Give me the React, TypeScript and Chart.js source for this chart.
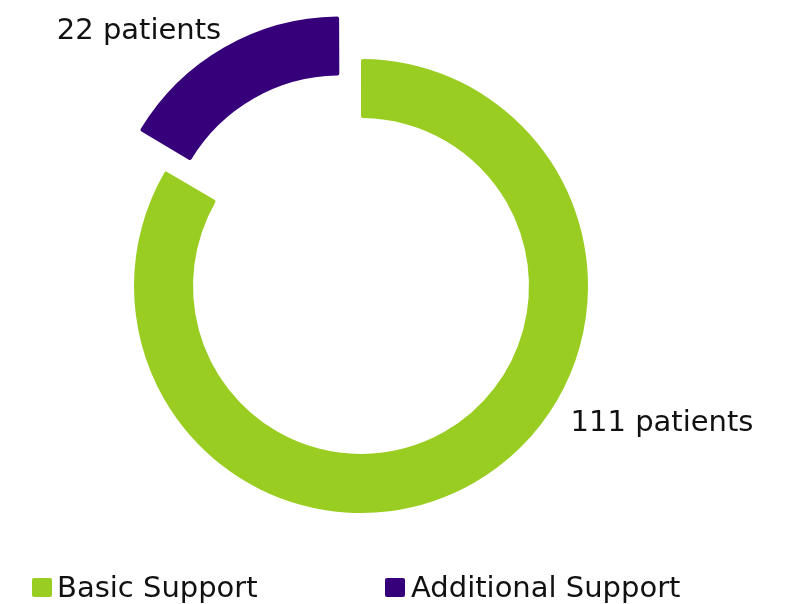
import React, { useEffect, useRef } from "react";
import { Chart, registerables } from "chart.js";

Chart.register(...registerables);

const categories = ["Basic Support", "Additional Support"];
const patients = [111, 22];
const valueLabels = patients.map((v) => `${v} patients`);
const colors = ["#9ACD22", "#36007A"];

const FONT = '"DejaVu Sans", Verdana, sans-serif';

const outsideLabels = {
  id: "outsideLabels",
  afterDatasetsDraw(chart: any) {
    const meta = chart.getDatasetMeta(0);
    const ctx = chart.ctx;
    // label anchors relative to the ring centre, in units of the outer radius
    const anchors = [
      { fx: 1.326, fy: 0.639 },
      { fx: -0.978, fy: -1.088 },
    ];
    ctx.save();
    ctx.font = `29px ${FONT}`;
    ctx.fillStyle = "#111111";
    ctx.textAlign = "center";
    ctx.textBaseline = "alphabetic";
    meta.data.forEach((arc: any, i: number) => {
      const a = anchors[i];
      const r = arc.outerRadius;
      ctx.fillText(valueLabels[i], arc.x + a.fx * r, arc.y + a.fy * r);
    });
    ctx.restore();
  },
};

export default function App() {
  const ref = useRef<HTMLCanvasElement>(null);

  useEffect(() => {
    if (!ref.current) return;
    const chart = new Chart(ref.current, {
      type: "doughnut",
      data: {
        labels: categories,
        datasets: [
          {
            data: patients,
            backgroundColor: colors,
            borderWidth: 0,
            borderRadius: 2,
            offset: [0, 169],
            hoverOffset: 0,
          },
        ],
      },
      options: {
        responsive: false,
        maintainAspectRatio: false,
        animation: false,
        radius: 227,
        cutout: "74%",
        layout: { padding: { top: 35, bottom: 67, left: 110, right: 186 } },
        plugins: {
          legend: { display: false },
          tooltip: { enabled: false },
        },
      },
      plugins: [outsideLabels],
    });
    return () => chart.destroy();
  }, []);

  const legendItem = (i: number, boxLeft: number, textLeft: number) => (
    <React.Fragment key={i}>
      <div
        style={{
          position: "absolute",
          left: boxLeft,
          top: 578,
          width: 20,
          height: 19,
          borderRadius: 2,
          background: colors[i],
        }}
      />
      <div
        style={{
          position: "absolute",
          left: textLeft,
          top: 573,
          font: `29px ${FONT}`,
          lineHeight: "29px",
          color: "#111111",
          whiteSpace: "nowrap",
        }}
      >
        {categories[i]}
      </div>
    </React.Fragment>
  );

  return (
    <div
      style={{
        position: "fixed",
        left: 0,
        top: 0,
        width: 798,
        height: 604,
        background: "#ffffff",
        overflow: "hidden",
      }}
    >
      <canvas ref={ref} width={798} height={604} style={{ display: "block" }} />
      {legendItem(0, 32, 57)}
      {legendItem(1, 385, 411)}
    </div>
  );
}
